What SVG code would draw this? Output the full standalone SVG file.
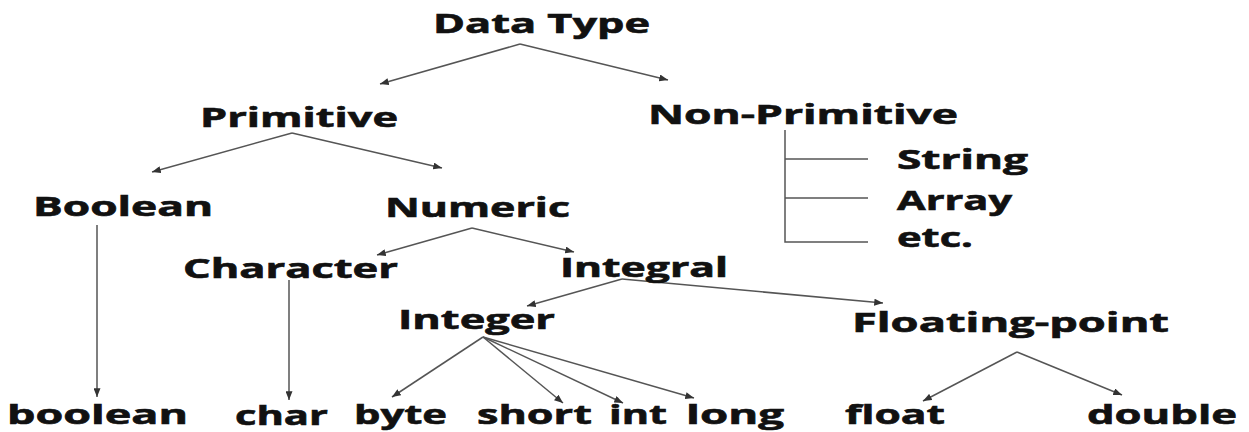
<svg xmlns="http://www.w3.org/2000/svg" width="1249" height="432" viewBox="0 0 1249 432">
<defs>
<style>
text{font-family:"Open Sans","Liberation Sans",sans-serif;font-weight:700;font-size:26px;fill:#111;stroke:#111;stroke-width:0.6}
.leaf{font-size:27px}
.c line,.c path{stroke:#555;stroke-width:1.5;fill:none}
.a{marker-end:url(#ah)}
</style>
<marker id="ah" viewBox="0 0 10 8" refX="10" refY="4" markerWidth="9" markerHeight="7" markerUnits="userSpaceOnUse" orient="auto">
<path d="M0,0 L10,4 L0,8 z" fill="#333"/>
</marker>
</defs>
<rect width="1249" height="432" fill="#fff"/>
<g id="connectors" class="c">
<line class="a" x1="520" y1="44" x2="380" y2="84"/>
<line class="a" x1="520" y1="44" x2="668" y2="80"/>
<line class="a" x1="292" y1="133" x2="152" y2="172"/>
<line class="a" x1="292" y1="133" x2="442" y2="168"/>
<line class="a" x1="97" y1="225" x2="97" y2="397"/>
<line class="a" x1="472" y1="228" x2="377" y2="255"/>
<line class="a" x1="472" y1="228" x2="574" y2="252"/>
<line class="a" x1="289" y1="280" x2="289" y2="400"/>
<line class="a" x1="622" y1="279" x2="527" y2="306"/>
<line class="a" x1="622" y1="279" x2="883" y2="303"/>
<line class="a" x1="483" y1="337" x2="392" y2="397"/>
<line class="a" x1="483" y1="337" x2="563" y2="403"/>
<line class="a" x1="483" y1="337" x2="623" y2="403"/>
<line class="a" x1="483" y1="337" x2="694" y2="398"/>
<line class="a" x1="1017" y1="352" x2="923" y2="401"/>
<line class="a" x1="1017" y1="352" x2="1122" y2="395"/>
<path d="M785,130 V242 H868 M785,159 H868 M785,198 H868"/>
</g>
<g id="n-datatype"><text x="433" y="33" textLength="217" lengthAdjust="spacingAndGlyphs">Data Type</text></g>
<g id="n-primitive"><text x="200" y="127" textLength="198" lengthAdjust="spacingAndGlyphs">Primitive</text></g>
<g id="n-nonprimitive"><text x="648" y="124" textLength="310" lengthAdjust="spacingAndGlyphs">Non-Primitive</text></g>
<g id="n-string"><text x="897" y="169" textLength="131" lengthAdjust="spacingAndGlyphs">String</text></g>
<g id="n-array"><text x="897" y="210" textLength="115" lengthAdjust="spacingAndGlyphs">Array</text></g>
<g id="n-etc"><text x="897" y="247" textLength="76" lengthAdjust="spacingAndGlyphs">etc.</text></g>
<g id="n-boolean-cat"><text x="33" y="216" textLength="180" lengthAdjust="spacingAndGlyphs">Boolean</text></g>
<g id="n-numeric"><text x="385" y="217" textLength="185" lengthAdjust="spacingAndGlyphs">Numeric</text></g>
<g id="n-character"><text x="183" y="278" textLength="215" lengthAdjust="spacingAndGlyphs">Character</text></g>
<g id="n-integral"><text x="560" y="277" textLength="168" lengthAdjust="spacingAndGlyphs">Integral</text></g>
<g id="n-integer"><text x="398" y="329" textLength="157" lengthAdjust="spacingAndGlyphs">Integer</text></g>
<g id="n-floating"><text x="852" y="332" textLength="317" lengthAdjust="spacingAndGlyphs">Floating-point</text></g>
<g id="n-boolean"><text class="leaf" x="7" y="424" textLength="181" lengthAdjust="spacingAndGlyphs">boolean</text></g>
<g id="n-char"><text class="leaf" x="235" y="425" textLength="93" lengthAdjust="spacingAndGlyphs">char</text></g>
<g id="n-byte"><text class="leaf" x="354" y="424" textLength="93" lengthAdjust="spacingAndGlyphs">byte</text></g>
<g id="n-short"><text class="leaf" x="477" y="424" textLength="115" lengthAdjust="spacingAndGlyphs">short</text></g>
<g id="n-int"><text class="leaf" x="609" y="424" textLength="58" lengthAdjust="spacingAndGlyphs">int</text></g>
<g id="n-long"><text class="leaf" x="686" y="424" textLength="98" lengthAdjust="spacingAndGlyphs">long</text></g>
<g id="n-float"><text class="leaf" x="845" y="424" textLength="100" lengthAdjust="spacingAndGlyphs">float</text></g>
<g id="n-double"><text class="leaf" x="1087" y="424" textLength="150" lengthAdjust="spacingAndGlyphs">double</text></g>
</svg>
